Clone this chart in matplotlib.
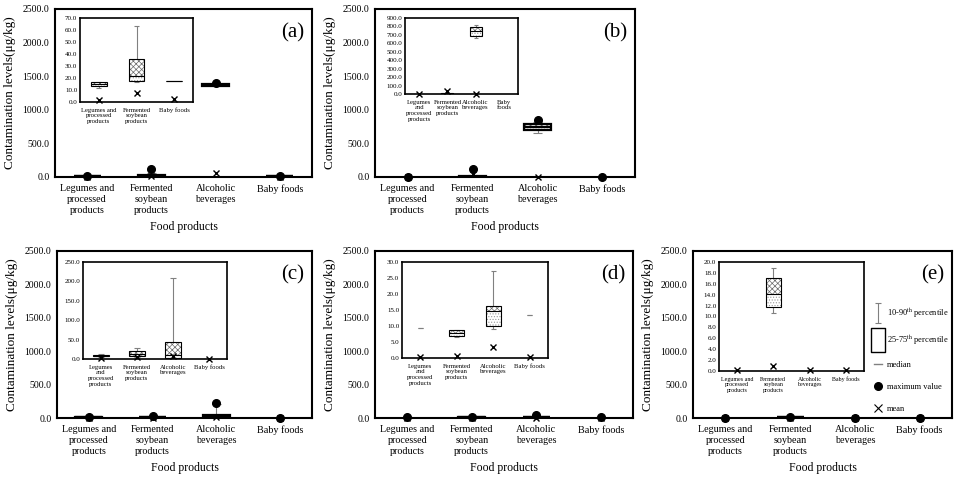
import numpy as np
import matplotlib
matplotlib.use('Agg')
import matplotlib.pyplot as plt
from matplotlib.lines import Line2D
from matplotlib.path import Path

plt.rcParams['font.family'] = ['Liberation Serif', 'DejaVu Serif']
plt.rcParams['mathtext.fontset'] = 'stix'
plt.rcParams['hatch.linewidth'] = 0.5

nan = np.nan

# categories
cats = ['Legumes and\nprocessed\nproducts', 'Fermented\nsoybean\nproducts',
        'Alcoholic\nbeverages', 'Baby foods']

# (a)
a_p10 = [11.5, 16.8, nan, nan]
a_q1 = [13.2, 17.6, 1355, 17.6]
a_med = [15.0, 21.6, 1370, 17.6]
a_q3 = [16.8, 35.6, 1380, 17.6]
a_p90 = [17.0, 63.0, nan, nan]
a_max = [20, 115, 1395, 20]
a_mean = [1.5, 7.6, 55, 2.3]

# (b)
b_p10 = [nan, 1, 660, nan]
b_q1 = [nan, 2, 692, nan]
b_med = [nan, 5, 742, nan]
b_q3 = [nan, 12, 795, nan]
b_p90 = [nan, 25, 820, nan]
b_max = [5, 119, 848, 5]
b_mean = [1, 40, 1, nan]

# (c)
c_p10 = [6, 5, 1, nan]
c_q1 = [7, 8.5, 2, nan]
c_med = [9, 14, 10, nan]
c_q3 = [11, 21, 43, nan]
c_p90 = [12, 27.5, 210, nan]
c_max = [15, 35, 220, 2]
c_mean = [3, 5, 8, 1]

# (d)
d_p10 = [9.3, 6.6, 9.1, 13.4]
d_q1 = [nan, 6.9, 10.1, nan]
d_med = [nan, 7.9, 14.7, nan]
d_q3 = [nan, 8.6, 16.3, nan]
d_p90 = [9.3, 8.9, 27.1, 13.4]
d_max = [10, 9, 45, 13.4]
d_mean = [0.2, 0.7, 3.3, 0.2]

# (e)
e_p10 = [nan, 10.6, nan, nan]
e_q1 = [nan, 11.8, nan, nan]
e_med = [nan, 14.1, nan, nan]
e_q3 = [nan, 17.0, nan, nan]
e_p90 = [nan, 18.9, nan, nan]
e_max = [0, 20, 0, 0]
e_mean = [0.1, 1.0, 0.1, 0.1]

inset_ymax = {'a': 70, 'b': 900, 'c': 250, 'd': 30, 'e': 20}
inset_step = {'a': 10, 'b': 100, 'c': 50, 'd': 5, 'e': 2}
inset_idx = {'a': [0, 1, 3], 'b': [0, 1, 2, 3], 'c': [0, 1, 2, 3], 'd': [0, 1, 2, 3], 'e': [0, 1, 2, 3]}
inset_labels = {
    'a': ['Legumes and\nprocessed\nproducts', 'Fermented\nsoybean\nproducts', 'Baby foods'],
    'b': ['Legumes\nand\nprocessed\nproducts', 'Fermented\nsoybean\nproducts', 'Alcoholic\nbeverages', 'Baby\nfoods'],
    'c': ['Legumes\nand\nprocessed\nproducts', 'Fermented\nsoybean\nproducts', 'Alcoholic\nbeverages', 'Baby foods'],
    'd': ['Legumes\nand\nprocessed\nproducts', 'Fermented\nsoybean\nproducts', 'Alcoholic\nbeverages', 'Baby foods'],
    'e': ['Legumes and\nprocessed\nproducts', 'Fermented\nsoybean\nproducts', 'Alcoholic\nbeverages', 'Baby foods'],
}

panels = {
    'a': (a_p10, a_q1, a_med, a_q3, a_p90, a_max, a_mean),
    'b': (b_p10, b_q1, b_med, b_q3, b_p90, b_max, b_mean),
    'c': (c_p10, c_q1, c_med, c_q3, c_p90, c_max, c_mean),
    'd': (d_p10, d_q1, d_med, d_q3, d_p90, d_max, d_mean),
    'e': (e_p10, e_q1, e_med, e_q3, e_p90, e_max, e_mean),
}

W, H = 960, 483
outer_px = {'a': (55, 9, 312, 177), 'b': (375, 9, 635, 177), 'c': (57, 251, 312, 418),
            'd': (375, 251, 633, 418), 'e': (693, 251, 952, 418)}
inset_px = {'a': (80, 18, 193, 102), 'b': (405, 18, 518, 94), 'c': (83, 262, 227, 359),
            'd': (402, 262, 548, 358), 'e': (719, 262, 864, 371)}


def rect(l, t, r, b):
    return [l / W, (H - b) / H, (r - l) / W, (b - t) / H]


def draw(ax, idx, stats, wbox=0.42, cap=0.07, lwb=0.8, ms_o=5, ms_x=5, show_max=True):
    p10, q1, med, q3, p90, vmax, vmean = [np.array(s, dtype=float)[idx] for s in stats]
    x = np.arange(len(idx))
    m = ~np.isnan(p10)
    ax.vlines(x[m], p10[m], p90[m], color='gray', lw=0.8, zorder=1)
    ax.hlines(np.r_[p10[m], p90[m]], np.r_[x[m], x[m]] - cap, np.r_[x[m], x[m]] + cap,
              color='gray', lw=0.8, zorder=1)
    m = ~np.isnan(q1)
    ax.bar(x[m], med[m] - q1[m], wbox, bottom=q1[m], color='white', edgecolor='#9a9a9a',
           hatch='......', lw=0, zorder=2)
    ax.bar(x[m], q3[m] - med[m], wbox, bottom=med[m], color='white', edgecolor='#6a6a6a',
           hatch='xxxxxx', lw=0, zorder=2)
    ax.bar(x[m], q3[m] - q1[m], wbox, bottom=q1[m], fill=False, edgecolor='black', lw=lwb, zorder=3)
    ax.hlines(med[m], x[m] - wbox / 2, x[m] + wbox / 2, color='black', lw=lwb, zorder=3)
    if show_max:
        ax.plot(x, vmax, 'o', color='black', ms=ms_o, ls='none', clip_on=False, zorder=4)
    ax.plot(x, vmean, 'x', color='black', ms=ms_x, mew=1.0, ls='none', clip_on=False, zorder=4)
    ax.set_xlim(-0.5, len(idx) - 0.5)


fig = plt.figure(figsize=(9.6, 4.83), dpi=100)

for key in 'abcde':
    ax = fig.add_axes(rect(*outer_px[key]))
    draw(ax, [0, 1, 2, 3], panels[key], lwb=1.6, ms_o=5.5, ms_x=5)
    ax.set_ylim(0, 2500)
    ax.set_yticks(np.arange(0, 2501, 500))
    ax.set_yticklabels(['%.1f' % v for v in np.arange(0, 2501, 500)], fontsize=7)
    ax.set_xticks(range(4))
    ax.set_xticklabels(cats, fontsize=7.3, linespacing=1.3)
    ax.tick_params(length=0, pad=4)
    ax.tick_params(axis='x', pad=5)
    for s in ax.spines.values():
        s.set_linewidth(1.5)
    ax.set_xlabel('Food products', fontsize=8.5, labelpad=4)
    ax.set_ylabel('Contamination levels(μg/kg)', fontsize=9.5, labelpad=5)
    ax.text(0.925, 0.86, '(%s)' % key, transform=ax.transAxes, fontsize=15,
            ha='center', va='center')

    ia = fig.add_axes(rect(*inset_px[key]))
    draw(ia, inset_idx[key], panels[key], lwb=0.8, ms_x=5, show_max=False)
    ymax = inset_ymax[key]
    ticks = np.arange(0, ymax + 0.001, inset_step[key])
    ia.set_ylim(0, ymax)
    ia.set_yticks(ticks)
    ia.set_yticklabels(['%.1f' % v for v in ticks], fontsize=5)
    ia.set_xticks(range(len(inset_idx[key])))
    ia.set_xticklabels(inset_labels[key], fontsize=4.3 if key == 'e' else 4.8, linespacing=1.2)
    ia.tick_params(length=0, pad=2)
    ia.tick_params(axis='x', pad=4)
    for s in ia.spines.values():
        s.set_linewidth(1.2)
    if key == 'e':
        ibar = Path([(-0.3, -1), (0.3, -1), (0, -1), (0, 1), (-0.3, 1), (0.3, 1)],
                    [Path.MOVETO, Path.LINETO, Path.MOVETO, Path.LINETO, Path.MOVETO, Path.LINETO])
        sq = Path([(-0.6, -1), (0.6, -1), (0.6, 1), (-0.6, 1), (-0.6, -1)],
                  [Path.MOVETO, Path.LINETO, Path.LINETO, Path.LINETO, Path.CLOSEPOLY])
        handles = [
            Line2D([], [], ls='none', marker=ibar, ms=14, mec='gray', mew=0.8),
            Line2D([], [], ls='none', marker=sq, ms=17, mfc='white', mec='black', mew=1.0),
            Line2D([], [], color='gray', lw=1.0),
            Line2D([], [], ls='none', marker='o', ms=5.5, color='black'),
            Line2D([], [], ls='none', marker='x', ms=6, mew=0.8, color='black'),
        ]
        labels = ['10-90$^{\\mathrm{th}}$ percentile', '25-75$^{\\mathrm{th}}$ percentile',
                  'median', 'maximum value', 'mean']
        ax.legend(handles, labels, loc='upper left', bbox_to_anchor=(0.685, 0.69),
                  frameon=False, fontsize=6, handlelength=1.0, handletextpad=0.6,
                  labelspacing=1.65, borderaxespad=0)

fig.savefig('out.png', dpi=100)
